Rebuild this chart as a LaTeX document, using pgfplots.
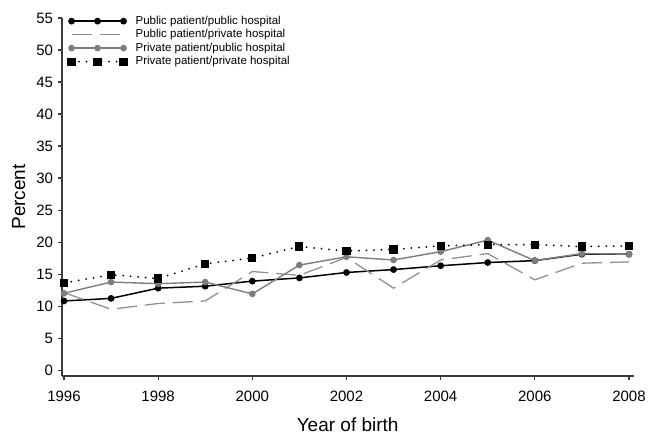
\documentclass[border=0pt]{standalone}
\usepackage{fontspec}
\setmainfont{Liberation Sans}
\usepackage{pgfplots}
\pgfplotsset{compat=1.18}
\definecolor{midgray}{RGB}{125,125,125}
\definecolor{dashgray}{RGB}{145,145,145}
\definecolor{axgray}{RGB}{60,60,60}
\begin{document}
\begin{tikzpicture}
\begin{axis}[
  name=ax,
  scale only axis, width=572pt, height=357.8pt,
  xmin=1995.95, xmax=2008.1, ymin=-0.9, ymax=55,
  axis lines*=left,
  axis line style={line width=1.8pt, color=axgray},
  xtick={1996,1998,...,2008}, ytick={0,5,...,55},
  tick align=outside, tick style={line width=1.1pt, axgray}, major tick length=4pt,
  ticklabel style={font=\fontsize{15}{18}\selectfont},
  xticklabel style={yshift=-8pt},
  yticklabel style={xshift=-1pt},
  /pgf/number format/assume math mode=true,
  /pgf/number format/1000 sep={},
  xlabel={Year of birth}, ylabel={Percent},
  label style={font=\fontsize{19}{22}\selectfont},
  xlabel style={at={(axis description cs:0.5,-0.137)}, anchor=center},
  ylabel style={at={(axis description cs:-0.0752,0.5)}, anchor=center},
  legend style={draw=none, fill=none, inner sep=0pt, outer sep=0pt,
    at={(axis description cs:0.012,1.008)}, anchor=north west,
    font=\fontsize{11.5}{13.5}\selectfont,
    nodes={inner sep=0pt, text height=9pt, text depth=3pt},
    row sep=1.5pt, column sep=9pt},
  legend cell align=left,
  legend image code/.code={\draw[#1] plot coordinates {(0pt,0pt)(26pt,0pt)(52pt,0pt)};},
]
\addplot[black, line width=1.5pt, mark=*, mark size=2.6pt] coordinates {
(1996,10.8)(1997,11.2)(1998,12.8)(1999,13.1)(2000,13.9)(2001,14.4)(2002,15.25)
(2003,15.7)(2004,16.3)(2005,16.8)(2006,17.1)(2007,18.1)(2008,18.1)};
\addlegendentry{Public patient/public hospital}
\addplot[dashgray, line width=1.3pt, dash pattern=on 20pt off 8pt] coordinates {
(1996,12.1)(1997,9.5)(1998,10.4)(1999,10.8)(2000,15.4)(2001,14.8)(2002,17.6)
(2003,12.8)(2004,17.2)(2005,18.2)(2006,14.1)(2007,16.7)(2008,16.9)};
\addlegendentry{Public patient/private hospital}
\addplot[midgray, line width=1.4pt, mark=*, mark size=2.6pt] coordinates {
(1996,12.0)(1997,13.75)(1998,13.5)(1999,13.75)(2000,11.9)(2001,16.4)(2002,17.7)
(2003,17.2)(2004,18.5)(2005,20.3)(2006,17.1)(2007,18.2)(2008,18.1)};
\addlegendentry{Private patient/public hospital}
\addplot[black, line width=2pt, line cap=round, dash pattern=on 0pt off 7.5pt,
  mark=square*, mark size=3.1pt, mark options={solid}] coordinates {
(1996,13.6)(1997,14.9)(1998,14.3)(1999,16.6)(2000,17.5)(2001,19.3)(2002,18.6)
(2003,18.85)(2004,19.4)(2005,19.6)(2006,19.6)(2007,19.3)(2008,19.4)};
\addlegendentry{Private patient/private hospital}
\end{axis}
\pgfresetboundingbox
\path ([xshift=-61.6pt,yshift=-60.2pt]ax.south west) rectangle ([xshift=16.3pt,yshift=18pt]ax.north east);
\end{tikzpicture}
\end{document}
